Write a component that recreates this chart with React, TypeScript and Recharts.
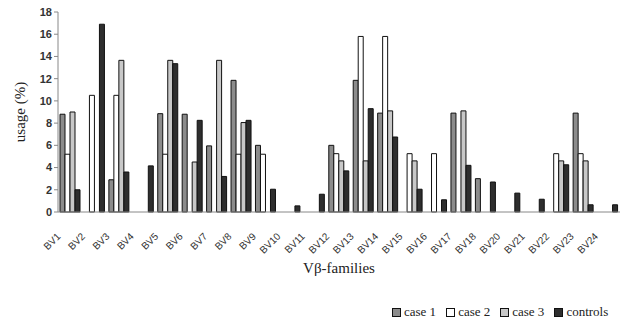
import React from 'react';
import { BarChart, Bar, XAxis, YAxis, Legend } from 'recharts';

const families = ['BV1','BV2','BV3','BV4','BV5','BV6','BV7','BV8','BV9','BV10','BV11','BV12','BV13','BV14','BV15','BV16','BV17','BV18','BV20','BV21','BV22','BV23','BV24'];
const case1 =    [8.8, 0, 2.9, 0, 8.85, 8.8, 5.95, 11.85, 6.0, 0, 0, 6.0, 11.85, 8.9, 0, 0, 8.9, 3.0, 0, 0, 0, 8.9, 0];
const case2 =    [5.2, 10.5, 10.5, 0, 5.2, 0, 0, 5.2, 5.2, 0, 0, 5.25, 15.8, 15.8, 5.25, 5.25, 0, 0, 0, 0, 5.25, 5.25, 0];
const case3 =    [9.0, 0, 13.65, 0, 13.65, 4.5, 13.65, 8.05, 0, 0, 0, 4.6, 4.6, 9.1, 4.6, 0, 9.1, 0, 0, 0, 4.6, 4.6, 0];
const controls = [2.0, 16.9, 3.6, 4.15, 13.35, 8.25, 3.2, 8.25, 2.05, 0.55, 1.6, 3.7, 9.3, 6.75, 2.05, 1.1, 4.2, 2.7, 1.7, 1.15, 4.25, 0.65, 0.65];
const yTicks = [0, 2, 4, 6, 8, 10, 12, 14, 16, 18];

const data = families.map((f, i) => ({
  family: f,
  case1: case1[i],
  case2: case2[i],
  case3: case3[i],
  controls: controls[i],
}));

const SANS = '"Liberation Sans", Arial, sans-serif';
const SERIF = '"Liberation Serif", "Times New Roman", serif';

const XTick = (props: any) => {
  const { x, y, payload } = props;
  const ax = x - 9;
  const ay = y + 17;
  return (
    <text x={ax} y={ay} transform={`rotate(-45 ${ax} ${ay})`} textAnchor="end" fontSize={10} fontFamily={SANS} fill="#333">
      {payload.value}
    </text>
  );
};

const renderLegend = (props: any) => {
  const { payload } = props;
  return (
    <div style={{ display: 'flex', alignItems: 'center', fontFamily: SERIF, fontSize: 13, color: '#222', whiteSpace: 'nowrap' }}>
      {payload.map((entry: any) => (
        <div key={entry.value} style={{ display: 'flex', alignItems: 'center', marginRight: 10 }}>
          <span style={{ display: 'inline-block', width: 7, height: 7, background: entry.color, border: '1px solid #111', marginRight: 3 }} />
          <span>{entry.value}</span>
        </div>
      ))}
    </div>
  );
};

export default function App() {
  return (
    <div style={{ position: 'absolute', left: 0, top: 0, width: 625, height: 325, background: '#fff' }}>
      <BarChart
        width={625}
        height={325}
        data={data}
        margin={{ top: 12, right: 5, left: 0, bottom: 0 }}
        barCategoryGap={2}
        barGap={0}
      >
        <XAxis
          dataKey="family"
          height={113}
          interval={0}
          tick={<XTick />}
          tickLine={false}
          axisLine={{ stroke: '#888' }}
          label={{ value: 'Vβ-families', position: 'insideBottom', offset: 52, fontFamily: SERIF, fontSize: 15, fill: '#222' }}
        />
        <XAxis xAxisId="top" orientation="top" dataKey="family" height={0} tick={false} tickLine={false} axisLine={{ stroke: '#888' }} />
        <YAxis
          width={58}
          domain={[0, 18]}
          ticks={yTicks}
          interval={0}
          tickSize={4}
          tickLine={{ stroke: '#888' }}
          axisLine={{ stroke: '#888' }}
          tick={{ fontFamily: SANS, fontSize: 11, fill: '#333', fontWeight: 'bold' }}
          label={{ value: 'usage (%)', angle: -90, position: 'insideLeft', offset: 20, fontFamily: SERIF, fontSize: 15, fill: '#222', style: { textAnchor: 'middle' } }}
        />
        <YAxis yAxisId="right" orientation="right" width={0} domain={[0, 18]} tick={false} tickLine={false} axisLine={{ stroke: '#888' }} />
        <Legend
          layout="horizontal"
          verticalAlign="middle"
          align="center"
          content={renderLegend}
          wrapperStyle={{ left: 392, top: 304, width: 240, height: 18 }}
        />
        <Bar dataKey="case1" name="case 1" fill="#8c8c8c" stroke="#111" strokeWidth={1} isAnimationActive={false} />
        <Bar dataKey="case2" name="case 2" fill="#ffffff" stroke="#111" strokeWidth={1} isAnimationActive={false} />
        <Bar dataKey="case3" name="case 3" fill="#c8c8c8" stroke="#111" strokeWidth={1} isAnimationActive={false} />
        <Bar dataKey="controls" name="controls" fill="#2e2e2e" stroke="#111" strokeWidth={1} isAnimationActive={false} />
      </BarChart>
    </div>
  );
}
